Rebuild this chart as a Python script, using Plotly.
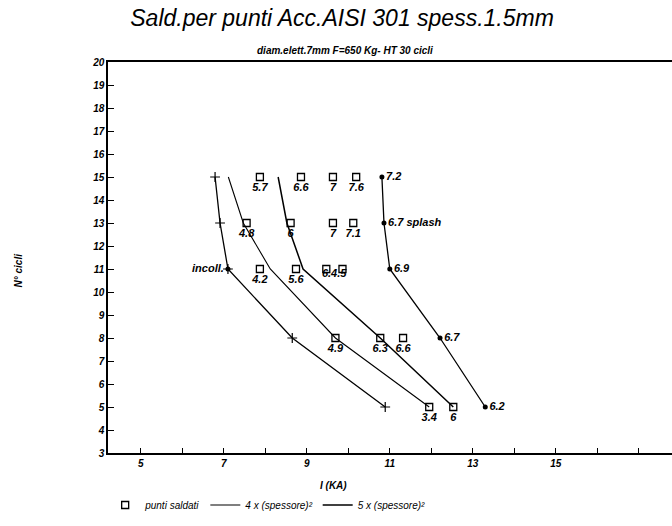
import plotly.graph_objects as go

# ---- data ----
# welded points (squares)
pts_x = [7.87, 8.86, 9.63, 10.19,
         7.55, 8.61, 9.63, 10.12,
         7.87, 8.74, 9.47, 9.86,
         9.69, 10.77, 11.32,
         11.95, 12.53]
pts_y = [15, 15, 15, 15,
         13, 13, 13, 13,
         11, 11, 11, 11,
         8, 8, 8,
         5, 5]
pts_lbl = ["5.7", "6.6", "7", "7.6",
           "4.8", "6", "7", "7.1",
           "4.2", "5.6", "", "",
           "4.9", "6.3", "6.6",
           "3.4", "6"]
pair_x = [9.66]
pair_y = [11]
pair_lbl = ["6.4.5"]

# boundary curves
lineA_x = [6.79, 6.91, 7.10, 8.65, 10.89]
lineA_y = [15, 13, 11, 8, 5]
lineB_x = [7.11, 7.47, 8.12, 9.69, 11.95]
lineB_y = [15, 13, 11, 8, 5]
lineC_x = [8.31, 8.52, 8.91, 10.77, 12.53]
lineC_y = [15, 13, 11, 8, 5]
lineD_x = [10.81, 10.86, 11.00, 12.21, 13.30]
lineD_y = [15, 13, 11, 8, 5]
lineD_lbl = ["7.2", "6.7 splash", "6.9", "6.7", "6.2"]

x_ticks = list(range(5, 18))
x_ticktext = [str(v) if (v % 2 == 1 and v <= 15) else "" for v in x_ticks]

FONT = "Liberation Sans"
lbl_font = dict(family=FONT, size=11, color="black", style="italic", weight="bold")

fig = go.Figure()

fig.add_trace(go.Scatter(
    x=pts_x, y=pts_y, mode="markers+text", text=pts_lbl,
    textposition="bottom center", textfont=lbl_font,
    marker=dict(symbol="square-open", size=7, color="black", line=dict(width=1.3)),
    name="punti saldati"))
fig.add_trace(go.Scatter(
    x=pair_x, y=pair_y, mode="text", text=pair_lbl,
    textposition="bottom center", textfont=lbl_font, showlegend=False,
    hoverinfo="skip"))
fig.add_trace(go.Scatter(
    x=lineA_x, y=lineA_y, mode="lines+markers",
    line=dict(color="black", width=1.3),
    marker=dict(symbol="cross-thin-open", size=7, color="black", line=dict(width=1.2, color="black")),
    showlegend=False, name="A"))
fig.add_trace(go.Scatter(
    x=[lineA_x[2]], y=[lineA_y[2]], mode="markers+text", text=["incoll."],
    textposition="middle left", textfont=lbl_font,
    marker=dict(symbol="circle", size=5, color="black"),
    showlegend=False, hoverinfo="skip"))
fig.add_trace(go.Scatter(
    x=lineB_x, y=lineB_y, mode="lines",
    line=dict(color="black", width=1.1),
    name="4 x (spessore)²"))
fig.add_trace(go.Scatter(
    x=lineC_x, y=lineC_y, mode="lines",
    line=dict(color="black", width=1.5),
    name="5 x (spessore)²"))
fig.add_trace(go.Scatter(
    x=lineD_x, y=lineD_y, mode="lines+markers+text", text=lineD_lbl,
    textposition="middle right", textfont=lbl_font,
    line=dict(color="black", width=1.3),
    marker=dict(symbol="circle", size=5, color="black"),
    showlegend=False, name="D"))

fig.update_layout(
    width=672, height=526,
    margin=dict(l=108, r=0, t=62, b=73),
    paper_bgcolor="white", plot_bgcolor="white",
    font=dict(family=FONT, size=10, color="black"),
    title=dict(text="Sald.per punti Acc.AISI 301 spess.1.5mm",
               x=0.509, xanchor="center", y=0.966, yanchor="middle",
               font=dict(family=FONT, size=23, color="black", style="italic")),
    showlegend=True,
    legend=dict(orientation="h", x=-0.005, xanchor="left", y=-0.133, yanchor="middle",
                font=dict(family=FONT, size=10, color="black", style="italic"),
                bgcolor="rgba(0,0,0,0)", itemwidth=30),
    xaxis=dict(range=[4.21, 17.8], tickmode="array", tickvals=x_ticks, ticktext=x_ticktext,
               ticks="inside", ticklen=5, tickcolor="black", showgrid=False, zeroline=False,
               showline=True, linecolor="black", linewidth=1.5, mirror=True,
               tickfont=dict(family=FONT, size=10, color="black", style="italic", weight="bold")),
    yaxis=dict(range=[3, 20], dtick=1, tick0=3,
               ticks="inside", ticklen=6, tickcolor="black", showgrid=False, zeroline=False,
               showline=True, linecolor="black", linewidth=1.5,
               tickfont=dict(family=FONT, size=10, color="black", style="italic", weight="bold")),
    annotations=[
        dict(text="diam.elett.7mm F=650 Kg- HT 30 cicli", xref="paper", yref="paper",
             x=0.42, y=1.049, showarrow=False,
             font=dict(family=FONT, size=10, color="black", style="italic", weight="bold")),
        dict(text="I (KA)", xref="paper", yref="paper", x=0.399, y=-0.102, showarrow=False,
             font=dict(family=FONT, size=10, color="black", style="italic", weight="bold")),
        dict(text="N° cicli", xref="paper", yref="paper", x=-0.172, y=0.468, showarrow=False,
             textangle=-90,
             font=dict(family=FONT, size=10, color="black", style="italic", weight="bold")),
    ],
)

fig.write_html("out.html")
